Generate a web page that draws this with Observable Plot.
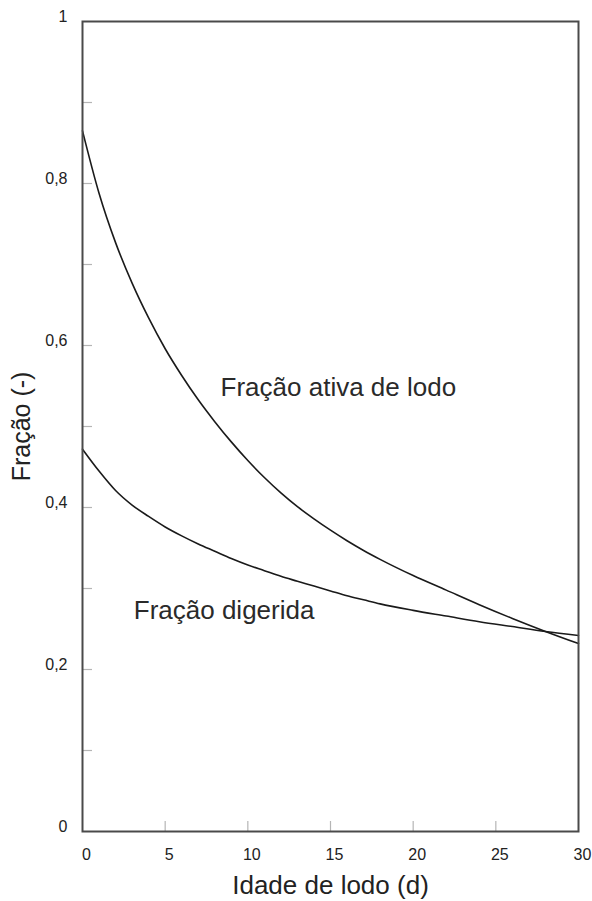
<!DOCTYPE html>
<html>
<head>
<meta charset="utf-8">
<script src="https://cdn.jsdelivr.net/npm/d3@7"></script>
<script src="https://cdn.jsdelivr.net/npm/@observablehq/plot@0.6"></script>
<style>
  html, body { margin: 0; padding: 0; background: #fff; }
  #chart { width: 592px; height: 901px; overflow: hidden; }
</style>
</head>
<body>
<div id="chart"></div>
<script>
// Sludge age (days)
const ages = [0, 1, 2, 3, 4, 5, 6, 7, 8, 9, 10, 11, 12, 13, 14, 15, 16, 17, 18, 20, 22, 24, 26, 28, 30];
// Active sludge fraction
const activeFraction = [0.865, 0.788, 0.727, 0.677, 0.634, 0.596, 0.563, 0.533, 0.506, 0.481, 0.458, 0.437, 0.418, 0.401, 0.386, 0.372, 0.359, 0.347, 0.336, 0.316, 0.298, 0.280, 0.263, 0.247, 0.232];
// Digested fraction
const digestedFraction = [0.472, 0.445, 0.421, 0.403, 0.389, 0.376, 0.365, 0.355, 0.346, 0.337, 0.329, 0.322, 0.315, 0.309, 0.303, 0.297, 0.291, 0.286, 0.281, 0.273, 0.266, 0.259, 0.253, 0.247, 0.242];

const seriesNames = ["Fração ativa de lodo", "Fração digerida"];
const labelX = [8.35, 3.1];
const labelY = [0.538, 0.262];

const xTickLabels = [0, 5, 10, 15, 20, 25, 30];
const xMinorTicks = [5, 10, 15, 20, 25];
const yTickLabels = [0, 0.2, 0.4, 0.6, 0.8, 1];
const yMinorTicks = [0.1, 0.2, 0.3, 0.4, 0.5, 0.6, 0.7, 0.8, 0.9];

const W = 592, H = 901;
const M = {top: 21, right: 14, bottom: 70, left: 82};
const plotW = W - M.left - M.right;
const plotH = H - M.top - M.bottom;
const tickLen = 10;

const rows = [];
ages.forEach((a, i) => {
  rows.push({series: seriesNames[0], age: a, value: activeFraction[i]});
  rows.push({series: seriesNames[1], age: a, value: digestedFraction[i]});
});
const labels = seriesNames.map((s, i) => ({text: s, x: labelX[i], y: labelY[i]}));

const fmt = d => String(d).replace(".", ",");

const chart = Plot.plot({
  width: W,
  height: H,
  marginTop: M.top,
  marginRight: M.right,
  marginBottom: M.bottom,
  marginLeft: M.left,
  style: {fontFamily: "'Liberation Sans', Arial, sans-serif", background: "#fff", overflow: "visible"},
  x: {domain: [0, 30]},
  y: {domain: [0, 1]},
  marks: [
    Plot.tickY(yMinorTicks, {y: d => d, stroke: "#b5b5b5", strokeWidth: 1.2, insetRight: plotW - tickLen}),
    Plot.tickX(xMinorTicks, {x: d => d, stroke: "#b5b5b5", strokeWidth: 1.2, insetTop: plotH - tickLen}),
    Plot.line(rows, {x: "age", y: "value", z: "series", stroke: "#1a1a1a", strokeWidth: 1.6, curve: "monotone-x"}),
    Plot.text(labels, {x: "x", y: "y", text: "text", textAnchor: "start", lineAnchor: "bottom", fontSize: 26, fill: "#2a2a2a"}),
    Plot.frame({stroke: "#4a4a4a", strokeWidth: 2}),
    Plot.axisY({
      ticks: yTickLabels, tickFormat: fmt, tickSize: 0, tickPadding: 15, dy: -5,
      fontSize: 16, color: "#222",
      label: "Fração (-)", labelAnchor: "center", labelOffset: 70, labelArrow: "none"
    }),
    Plot.axisX({
      ticks: xTickLabels, tickFormat: fmt, tickSize: 0, tickPadding: 17, dx: 4,
      fontSize: 16, color: "#222",
      label: "Idade de lodo (d)", labelAnchor: "center", labelOffset: 62, labelArrow: "none"
    })
  ]
});

const svg = d3.select(chart);
svg.selectAll("g[aria-label='y-axis label'] text, g[aria-label='x-axis label'] text")
  .attr("fill", "#222");
svg.selectAll("g[aria-label='y-axis label'] text").attr("font-size", 25);
svg.selectAll("g[aria-label='x-axis label'] text").attr("font-size", 26);

document.getElementById("chart").appendChild(chart);
</script>
</body>
</html>
